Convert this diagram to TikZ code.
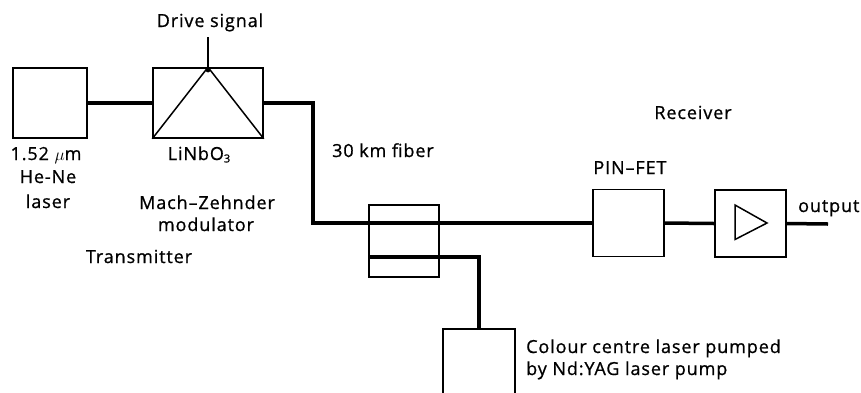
\documentclass[tikz,border=0pt]{standalone}
\usepackage{fontspec}
\setmainfont{Open Sans}[LetterSpace=5,FakeBold=0.8]
\newcommand{\mysubthree}{\raisebox{-0.25ex}{\fontsize{11}{11}\selectfont 3}}
\begin{document}
\begin{tikzpicture}[x=1pt,y=-1pt,
  box/.style={draw,line width=1.5pt,inner sep=0pt},
  fib/.style={line width=3.5pt},
  thin/.style={line width=1.5pt},
  lbl/.style={font=\fontsize{18}{21}\selectfont,inner sep=0pt,anchor=base},
  lblw/.style={lbl,anchor=base west}]
\clip (0,0) rectangle (861,392);
\fill[white] (0,0) rectangle (861,392);
% boxes
\node[box,minimum width=74pt,minimum height=70pt] (laser) at (50,103) {};
\node[box,minimum width=110pt,minimum height=70pt] (mod) at (208,103) {};
\node[box,minimum width=70pt,minimum height=72pt] (coupler) at (404,241) {};
\node[box,minimum width=72pt,minimum height=76pt] (pump) at (479,367) {};
\node[box,minimum width=71pt,minimum height=67pt] (pin) at (628.5,223) {};
\node[box,minimum width=71pt,minimum height=67pt] (amp) at (750.5,223.5) {};
% coordinates
\coordinate (drive) at (208,37);
\coordinate (bend) at (313,103);
\coordinate (cin) at (369,257);
\coordinate (outend) at (828,224);
% modulator interior
\draw[thin,line join=miter] (mod.south west) -- (mod.north) -- (mod.south east);
\draw[thin] (drive) -- (mod.north);
\fill (mod.north) ++(0,3) circle (2.2pt);
% amplifier triangle
\draw[thin,line join=miter] (amp.center) ++(-15.5,-18.5) -- ++(32,18) -- ++(-32,16.5) -- cycle;
% fibres
\draw[fib] (laser.east) -- (mod.west);
\draw[fib] (mod.east) -- (bend) |- (pin.west);
\draw[fib] (cin) -| (pump.north);
\draw[fib] (pin.east) -- (amp.west);
\draw[fib] (amp.east) -- (outend);
% labels
\node[lbl] (tdrive) at (210,27) {Drive signal};
\node[lbl] (t152) at (46,160) {1.52 $\mu$m};
\node[lbl] (thene) at (48,183) {He-Ne};
\node[lbl] (tlaser) at (48,208) {laser};
\node[lbl] (tlinbo) at (199,160) {LiNbO\mysubthree};
\node[lbl] (tmach) at (207,209) {Mach–Zehnder};
\node[lbl] (tmodul) at (206,231) {modulator};
\node[lbl] (ttrans) at (139,263) {Transmitter};
\node[lblw] (tfiber) at (332,157) {30 km fiber};
\node[lbl] (trecv) at (693,119) {Receiver};
\node[lbl] (tpin) at (630,174) {PIN–FET};
\node[lblw] (tout) at (798,212) {output};
\node[lblw] (tpump1) at (526,353) {Colour centre laser pumped};
\node[lblw] (tpump2) at (526,375) {by Nd:YAG laser pump};
\end{tikzpicture}
\end{document}
